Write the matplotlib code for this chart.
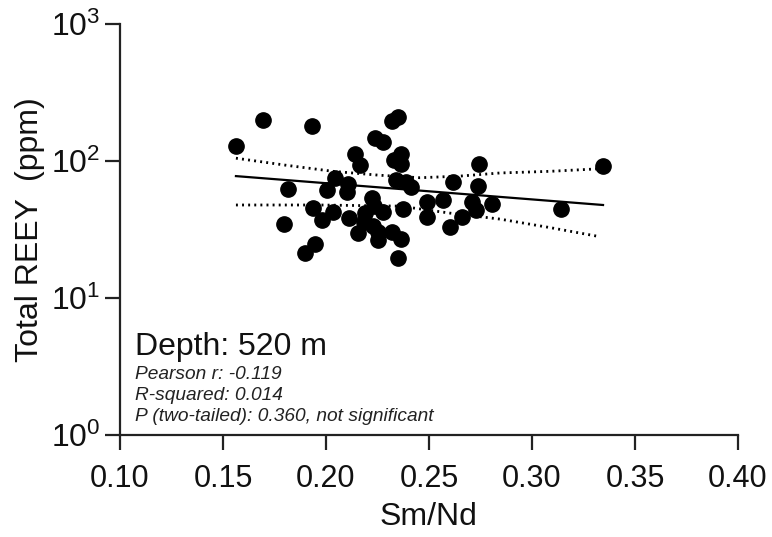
"""Scatter of total REEY against Sm/Nd at 520 m depth, with regression line and 95% band."""

import matplotlib

matplotlib.use("Agg")
import matplotlib.pyplot as plt

plt.rcParams["font.family"] = ["Liberation Sans", "DejaVu Sans"]
plt.rcParams["mathtext.fontset"] = "custom"
plt.rcParams["mathtext.rm"] = "Liberation Sans"

# samples (Sm/Nd, total REEY in ppm)
sm_nd = [
    0.1563, 0.1694, 0.1932, 0.1816, 0.1796, 0.1898, 0.1947, 0.1937, 0.1981, 0.2034,
    0.2005, 0.2044, 0.2107, 0.2102, 0.2112, 0.2141, 0.2165, 0.2238, 0.2277, 0.2320,
    0.2350, 0.2364, 0.2330, 0.2364, 0.2340, 0.2388, 0.2413, 0.2223, 0.2233, 0.2277,
    0.2189, 0.2184, 0.2228, 0.2155, 0.2252, 0.2252, 0.2320, 0.2364, 0.2350, 0.2374,
    0.2743, 0.3345, 0.2617, 0.2738, 0.2490, 0.2568, 0.2709, 0.2806, 0.2728, 0.2490,
    0.2660, 0.2602, 0.3141,
]
reey = [
    128.6, 199.0, 180.0, 62.5, 34.7, 21.3, 24.8, 45.4, 37.1, 42.4,
    61.4, 75.2, 68.0, 59.4, 38.4, 112.5, 93.5, 147.0, 137.6, 196.0,
    209.5, 112.5, 101.7, 95.1, 72.7, 70.3, 64.6, 53.7, 46.9, 42.4,
    41.7, 35.9, 33.5, 29.8, 30.3, 26.5, 30.3, 27.0, 19.6, 44.6,
    95.1, 92.0, 70.3, 65.7, 50.2, 51.9, 50.2, 48.5, 43.9, 39.0,
    39.0, 33.0, 44.6,
]

# regression line and confidence band as drawn in the reference
fit_x = [0.1563, 0.3345]
fit_y = [77.7, 47.8]
upper_x = [0.1563, 0.1801, 0.2034, 0.2257, 0.2456, 0.2650, 0.2845, 0.3087, 0.3316]
upper_y = [105.0, 93.5, 84.2, 78.9, 75.6, 77.7, 81.9, 84.2, 87.7]
lower_x = [0.1563, 0.1971, 0.2359, 0.2602, 0.2845, 0.3087, 0.3316]
lower_y = [47.8, 47.8, 46.9, 41.7, 37.7, 32.7, 28.3]

x_ticks = [0.10, 0.15, 0.20, 0.25, 0.30, 0.35, 0.40]
y_ticks = [1, 10, 100, 1000]

stats_lines = [
    "Pearson r: -0.119",
    "R-squared: 0.014",
    "P (two-tailed): 0.360, not significant",
]


def main() -> int:
    fig = plt.figure(figsize=(7.72, 5.37), dpi=100)
    ax = fig.add_axes([0.1554, 0.190, 0.8005, 0.765])

    ax.plot(sm_nd, reey, "o", color="black", markersize=11, zorder=3)
    ax.plot(fit_x, fit_y, color="black", linewidth=1.6, zorder=2)
    dots = (0, (0.7, 1.5))
    ax.plot(upper_x, upper_y, color="black", linewidth=2.0, linestyle=dots)
    ax.plot(lower_x, lower_y, color="black", linewidth=2.0, linestyle=dots)

    ax.set_yscale("log")
    ax.set_xlim(0.10, 0.40)
    ax.set_ylim(1, 1000)
    ax.set_xticks(x_ticks)
    ax.set_xticklabels([f"{t:.2f}" for t in x_ticks])
    ax.set_yticks(y_ticks)
    ax.minorticks_off()

    for side in ("top", "right"):
        ax.spines[side].set_visible(False)
    for side in ("left", "bottom"):
        ax.spines[side].set_linewidth(1.6)
        ax.spines[side].set_color("#222")
    ax.tick_params(axis="both", which="major", length=11, width=1.6,
                   color="#222", labelcolor="#111")
    ax.tick_params(axis="x", pad=10, labelsize=22)
    ax.tick_params(axis="y", pad=3, labelsize=23)

    ax.set_xlabel("Sm/Nd", fontsize=23, color="#111", labelpad=6)
    ax.set_ylabel("Total REEY  (ppm)", fontsize=23, color="#111", labelpad=4)

    ax.text(0.025, 0.195, "Depth: 520 m", transform=ax.transAxes,
            fontsize=23, color="#111", va="baseline")
    for y, line in zip([0.137, 0.084, 0.035], stats_lines):
        ax.text(0.025, y, line, transform=ax.transAxes, fontsize=13.8,
                style="italic", color="#222", va="baseline")

    fig.savefig("out.png", dpi=100)
    return 0


if __name__ == "__main__":
    raise SystemExit(main())
